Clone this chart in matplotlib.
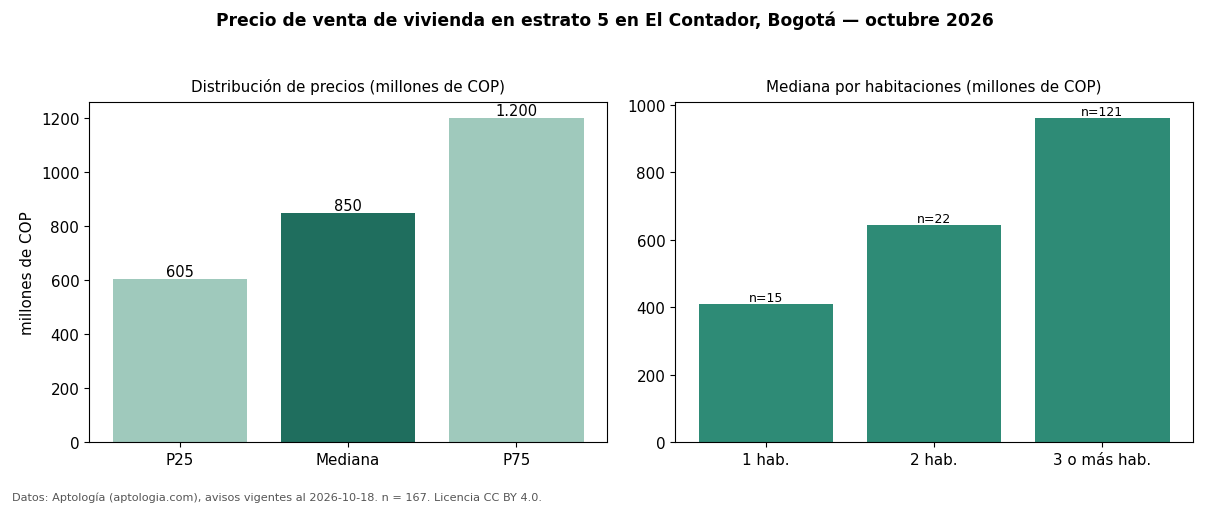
import matplotlib
matplotlib.use("Agg")
import matplotlib.pyplot as plt

# datos
cuantiles = ["P25", "Mediana", "P75"]
precios = [605, 850, 1200]
habitaciones = ["1 hab.", "2 hab.", "3 o más hab."]
medianas_hab = [410, 642, 960]
n_hab = [15, 22, 121]

c_claro = "#9fc9bc"
c_oscuro = "#1f6e5e"
c_medio = "#2e8b76"

fig = plt.figure(figsize=(12.1, 5.06), dpi=100)
ax1 = fig.add_axes([0.0736, 0.1245, 0.4281, 0.672])
ax2 = fig.add_axes([0.5579, 0.1245, 0.4281, 0.672])

fig.suptitle("Precio de venta de vivienda en estrato 5 en El Contador, Bogotá — octubre 2026",
             fontsize=12.3, fontweight="bold", y=0.978)

# panel izquierdo
bars1 = ax1.bar(cuantiles, precios, color=[c_claro, c_oscuro, c_claro])
for b, v in zip(bars1, precios):
    ax1.text(b.get_x() + b.get_width() / 2, v, f"{v:,}".replace(",", "."),
             ha="center", va="bottom", fontsize=10.5)
ax1.set_title("Distribución de precios (millones de COP)", fontsize=10.9, pad=8)
ax1.set_ylabel("millones de COP", fontsize=10.9)
ax1.tick_params(labelsize=10.9)

# panel derecho
bars2 = ax2.bar(habitaciones, medianas_hab, color=c_medio)
for b, v, n in zip(bars2, medianas_hab, n_hab):
    ax2.text(b.get_x() + b.get_width() / 2, v, f"n={n}",
             ha="center", va="bottom", fontsize=9)
ax2.set_title("Mediana por habitaciones (millones de COP)", fontsize=10.9, pad=8)
ax2.tick_params(labelsize=10.9)

fig.text(0.01, 0.009, "Datos: Aptología (aptologia.com), avisos vigentes al 2026-10-18. n = 167. Licencia CC BY 4.0.",
         fontsize=8.1, color="#555555")

fig.savefig("out.png", dpi=100, facecolor="white")
